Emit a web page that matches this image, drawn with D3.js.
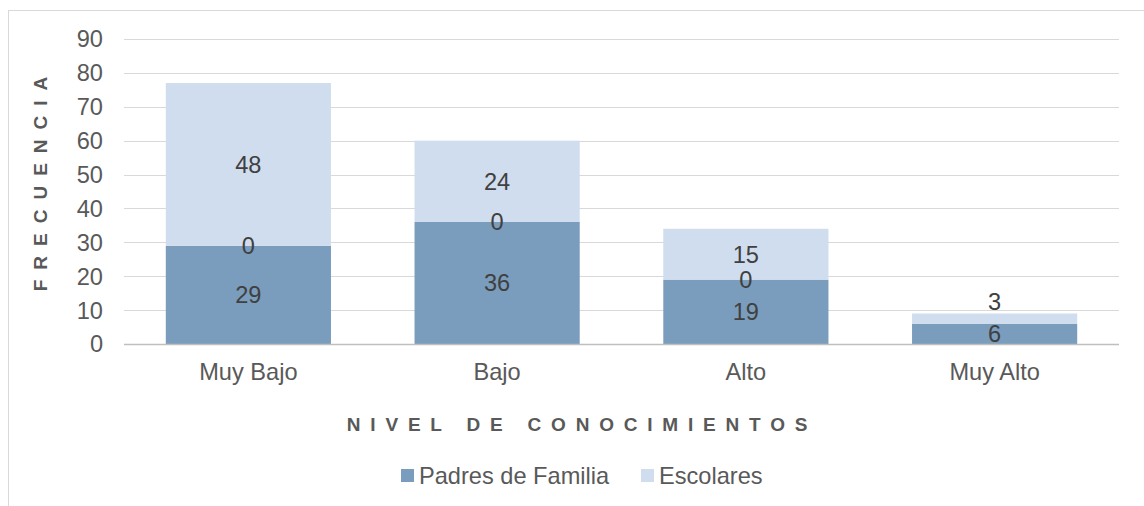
<!DOCTYPE html>
<html>
<head>
<meta charset="utf-8">
<script src="https://cdn.jsdelivr.net/npm/d3@7"></script>
<style>
  body { margin: 0; background: #fff; }
  text { font-family: "Liberation Sans", Arial, sans-serif; }
</style>
</head>
<body>
<div id="chart"></div>
<script>
// data
var categories = ["Muy Bajo", "Bajo", "Alto", "Muy Alto"];
var padres = [29, 36, 19, 6];
var vacio = [0, 0, 0, null];   // hidden series, only its labels show
var escolares = [48, 24, 15, 3];
var yTicks = [0, 10, 20, 30, 40, 50, 60, 70, 80, 90];
var seriesNames = ["Padres de Familia", "Escolares"];

var w = 1144, h = 506;
var plotLeft = 124, plotRight = 1119, plotTop = 39, plotBottom = 344;
var colors = ["#7a9dbd", "#d0ddee"];
var fs = "23.6px";

var svg = d3.select("#chart").append("svg")
    .attr("width", w)
    .attr("height", h);

// chart frame
svg.append("rect")
    .attr("x", 8.5).attr("y", 10.5)
    .attr("width", w + 20).attr("height", h + 20)
    .attr("fill", "none")
    .attr("stroke", "#d9d9d9");

var xScale = d3.scaleBand()
    .domain(categories)
    .range([plotLeft, plotRight])
    .paddingInner(0.336)
    .paddingOuter(0.168);

var yScale = d3.scaleLinear()
    .domain([0, 90])
    .range([plotBottom, plotTop]);

// gridlines
svg.append("g")
    .selectAll("line")
    .data(yTicks.slice(1))
    .enter()
    .append("line")
    .attr("x1", plotLeft).attr("x2", plotRight)
    .attr("y1", function(d) { return Math.round(yScale(d)) + 0.5; })
    .attr("y2", function(d) { return Math.round(yScale(d)) + 0.5; })
    .attr("stroke", "#d9d9d9")
    .attr("stroke-width", 1);

// stack
var stackData = categories.map(function(c, i) {
    return { cat: c, padres: padres[i], vacio: vacio[i] || 0, escolares: escolares[i] };
});
var stack = d3.stack().keys(["padres", "vacio", "escolares"]);
var layers = stack(stackData);
var layerColors = [colors[0], "none", colors[1]];

layers.forEach(function(layer, li) {
    svg.append("g")
        .selectAll("rect")
        .data(layer)
        .enter()
        .append("rect")
        .attr("x", function(d) { return xScale(d.data.cat); })
        .attr("y", function(d) { return yScale(d[1]); })
        .attr("width", xScale.bandwidth())
        .attr("height", function(d) { return yScale(d[0]) - yScale(d[1]); })
        .attr("fill", layerColors[li]);
});

// x axis line
svg.append("line")
    .attr("x1", plotLeft).attr("x2", plotRight)
    .attr("y1", plotBottom + 0.5).attr("y2", plotBottom + 0.5)
    .attr("stroke", "#bfbfbf")
    .attr("stroke-width", 1.5);

// data labels (top segment too thin -> label sits above the bar)
var labelSeries = [padres, vacio, escolares];
layers.forEach(function(layer, li) {
    svg.append("g")
        .selectAll("text")
        .data(layer.filter(function(d, i) { return labelSeries[li][i] != null; }))
        .enter()
        .append("text")
        .attr("x", function(d) { return xScale(d.data.cat) + xScale.bandwidth() / 2; })
        .attr("y", function(d) {
            var segH = yScale(d[0]) - yScale(d[1]);
            if (li === 2 && segH < 20) return yScale(d[1]) - 12;
            return (yScale(d[0]) + yScale(d[1])) / 2;
        })
        .attr("dy", "0.36em")
        .attr("text-anchor", "middle")
        .attr("font-size", fs)
        .attr("fill", "#404040")
        .text(function(d) { return d[1] - d[0]; });
});

// y tick labels
svg.append("g")
    .selectAll("text")
    .data(yTicks)
    .enter()
    .append("text")
    .attr("x", 103)
    .attr("y", function(d) { return yScale(d); })
    .attr("dy", "0.36em")
    .attr("text-anchor", "end")
    .attr("font-size", fs)
    .attr("fill", "#595959")
    .text(function(d) { return d; });

// x tick labels
svg.append("g")
    .selectAll("text")
    .data(categories)
    .enter()
    .append("text")
    .attr("x", function(d) { return xScale(d) + xScale.bandwidth() / 2; })
    .attr("y", 380)
    .attr("text-anchor", "middle")
    .attr("font-size", fs)
    .attr("fill", "#595959")
    .text(function(d) { return d; });

// axis titles
svg.append("text")
    .attr("transform", "translate(47,179) rotate(-90)")
    .attr("text-anchor", "middle")
    .attr("font-size", "19px")
    .attr("font-weight", "bold")
    .attr("letter-spacing", "10px")
    .attr("fill", "#595959")
    .text("FRECUENCIA");

svg.append("text")
    .attr("x", 582)
    .attr("y", 431)
    .attr("text-anchor", "middle")
    .attr("font-size", "19px")
    .attr("font-weight", "bold")
    .attr("letter-spacing", "9.8px")
    .attr("fill", "#595959")
    .text("NIVEL DE CONOCIMIENTOS");

// legend
var legendX = [401, 641];
var legend = svg.append("g");
seriesNames.forEach(function(name, i) {
    legend.append("rect")
        .attr("x", legendX[i]).attr("y", 469)
        .attr("width", 13).attr("height", 13)
        .attr("fill", colors[i]);
    legend.append("text")
        .attr("x", legendX[i] + 18)
        .attr("y", 476)
        .attr("dy", "0.36em")
        .attr("font-size", fs)
        .attr("fill", "#595959")
        .text(name);
});
</script>
</body>
</html>
